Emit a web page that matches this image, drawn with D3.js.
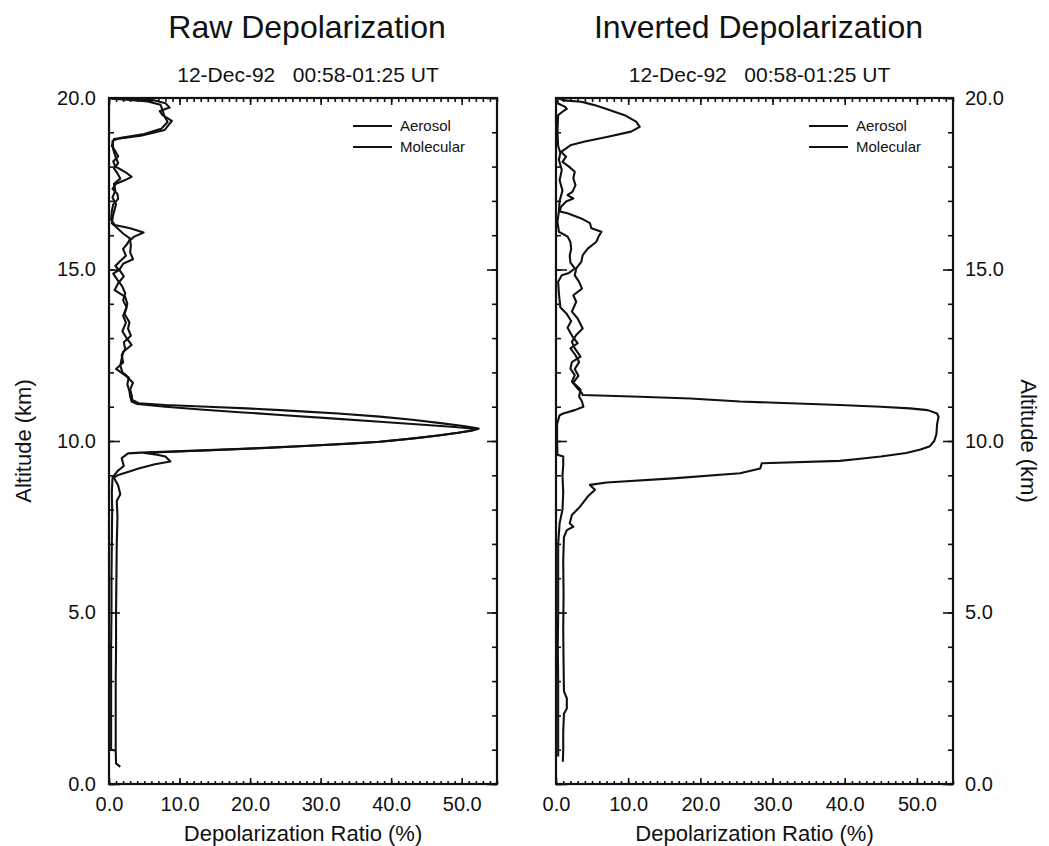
<!DOCTYPE html>
<html><head><meta charset="utf-8">
<script src="https://cdn.jsdelivr.net/npm/d3@7"></script>
<style>
body{margin:0;background:#fff;}
svg text{font-family:"Liberation Sans",Arial,Helvetica,sans-serif;fill:#111;}
</style></head><body>
<svg id="chart" width="1049" height="846"></svg>
<script>
// ---------- data ----------
const titles = ["Raw Depolarization", "Inverted Depolarization"];
const subtitle = "12-Dec-92   00:58-01:25 UT";
const xLabel = "Depolarization Ratio (%)";
const yLabel = "Altitude (km)";
const seriesNames = ["Aerosol", "Molecular"];
const xTicks = [0, 10, 20, 30, 40, 50];
const yTicks = [0, 5, 10, 15, 20];
const xDomain = [0, 55];
const yDomain = [0, 20];

// [altitude km, depolarization %]
const rawAerosol = [
[20.0,0.5],[19.97,3],[19.93,6.5],[19.85,8.0],[19.72,8.6],[19.62,7.2],[19.5,7.6],[19.33,8.9],[19.2,8.4],[19.07,7.9],[18.9,4.5],[18.8,0.7],
[18.6,0.4],[18.45,0.9],[18.3,1.3],[18.15,0.6],[18.0,0.9],[17.9,1.8],[17.8,2.6],[17.7,3.2],[17.6,2.2],[17.5,1.0],[17.35,0.5],[17.2,1.2],[17.06,1.3],[16.9,0.6],[16.7,0.4],[16.45,0.3],
[16.3,0.8],[16.2,3.0],[16.08,4.9],[15.95,3.5],[15.85,3.0],[15.7,3.1],[15.5,3.0],[15.3,3.4],[15.17,2.0],[15.0,1.5],[14.88,0.6],[14.7,1.2],[14.5,1.9],[14.3,2.3],[14.1,2.0],[13.9,2.5],[13.7,2.2],[13.46,2.9],[13.28,2.7],[13.07,3.1],[12.88,2.1],[12.68,2.3],[12.5,1.8],[12.29,2.0],[12.1,1.0],[11.9,2.4],[11.7,3.4],[11.5,3.0],[11.35,3.2],[11.2,3.3],
[11.1,4.2],[11.05,8],[11.0,14],[10.95,19.5],[10.9,24.3],[10.85,28.5],[10.8,32.5],[10.71,38.4],[10.62,43],[10.52,47],[10.43,50.5],[10.36,52.4],
[10.31,51.6],[10.25,49.8],[10.17,47],[10.09,43.8],[10.02,40.6],[9.98,38.4],[9.93,34.5],[9.87,29],[9.8,22],[9.74,15],[9.69,8.5],[9.66,4.5],[9.64,2.7],
[9.5,1.8],[9.27,2.1],[9.12,1.2],[8.93,0.5],[8.5,0.4],[8.0,0.45],[7.0,0.4],[6.0,0.35],[5.0,0.35],[4.0,0.3],[3.0,0.3],[2.0,0.3],[1.0,0.3],[0.97,1.0]
];
const rawMolecular = [
[19.98,0.4],[19.95,2.5],[19.9,5.5],[19.8,7.3],[19.65,7.6],[19.5,7.8],[19.3,8.3],[19.1,7.4],[18.95,5.0],[18.83,1.5],[18.75,0.5],
[18.5,0.6],[18.3,0.9],[18.1,1.3],[17.95,0.7],[17.8,1.2],[17.65,1.6],[17.5,0.7],[17.3,0.9],[17.1,0.5],[16.9,1.0],[16.6,0.6],[16.35,0.4],
[16.2,1.2],[16.05,2.0],[15.9,3.0],[15.75,2.6],[15.6,2.0],[15.4,2.4],[15.25,1.6],[15.1,0.9],[14.95,1.6],[14.8,2.1],[14.6,1.3],[14.4,0.8],[14.2,2.3],[14.0,2.6],[13.85,2.4],[13.65,2.0],[13.45,2.4],[13.2,1.9],[13.0,2.5],[12.8,3.2],[12.6,2.0],[12.4,1.8],[12.2,1.6],[12.0,1.9],[11.85,2.8],[11.65,2.6],[11.45,2.9],[11.3,3.0],[11.15,3.2],
[11.08,4],[11.0,8],[10.92,13],[10.84,18.5],[10.76,24.3],[10.66,31.5],[10.56,38.4],[10.48,44],[10.41,49],[10.35,52.1],
[10.3,51.2],[10.24,49.4],[10.16,46.6],[10.08,43.4],[10.01,40],[9.97,38.0],[9.92,34],[9.86,28.5],[9.79,21.5],[9.73,14.5],[9.68,8],[9.65,5],
[9.6,6.8],[9.55,8.0],[9.4,8.7],[9.32,6.5],[9.2,4.2],[9.12,3.0],[9.0,1.2],[8.93,0.7],[8.7,1.3],[8.45,1.6],[8.25,1.1],[7.8,1.2],[7.0,1.1],[6.0,1.05],[5.0,1.0],[4.0,1.0],[3.0,0.95],[2.0,0.95],[1.0,0.95],[0.6,1.0],[0.5,1.6]
];
const invAerosol = [
[20.0,0.3],[19.93,1.0],[19.89,3.5],[19.8,5.2],[19.7,6.7],[19.5,9.5],[19.31,11.1],[19.16,11.6],[19.02,10.4],[18.87,7.2],[18.73,4.0],[18.63,2.1],[18.43,0.7],
[18.29,1.4],[18.14,0.9],[18.0,1.8],[17.85,2.6],[17.66,2.4],[17.46,2.7],[17.27,2.3],[17.17,1.6],[17.07,2.4],[16.98,1.4],[16.83,0.7],[16.69,0.5],
[16.64,1.6],[16.49,3.5],[16.35,4.7],[16.2,4.9],[16.1,6.3],[15.96,5.9],[15.81,5.6],[15.61,4.4],[15.42,3.7],[15.22,3.5],[15.03,2.8],
[14.83,2.6],[14.64,3.2],[14.44,3.6],[14.25,2.4],[14.06,2.8],[13.77,2.2],[13.57,3.0],[13.28,3.7],[13.09,2.8],[12.89,2.2],[12.7,2.6],[12.46,3.4],[12.3,2.2],[12.11,2.0],[11.92,2.6],[11.73,2.2],[11.53,3.0],[11.39,3.6],
[11.34,3.7],[11.29,11.6],[11.24,18.6],[11.15,25.5],[11.05,39.3],[11.0,45],[10.95,49],[10.9,51.5],[10.8,52.8],[10.7,53.0],[10.5,52.8],[10.2,52.7],[10.0,52.4],[9.85,51.8],[9.75,50.5],[9.65,48.5],[9.55,45],[9.47,41.5],[9.42,39.3],
[9.35,28.5],[9.2,28.3],[9.06,25.5],[8.91,16.2],[8.79,7.0],[8.72,4.7],[8.58,5.4],[8.38,4.4],[8.08,3.3],[7.84,2.2],[7.6,1.9],[7.5,2.4],[7.4,1.5],[7.2,1.1],
[6.5,1.0],[5.5,1.05],[4.5,1.0],[3.5,1.05],[2.7,1.1],[2.5,1.5],[2.2,1.5],[2.05,1.1],[1.5,1.0],[1.0,1.0],[0.65,0.95]
];
const invMolecular = [
[19.95,0.2],[19.84,0.3],[19.75,1.2],[19.68,1.5],[19.6,0.9],[19.5,0.3],[19.0,0.2],[18.6,0.3],[18.4,0.6],[18.2,0.4],[17.9,0.8],[17.6,0.5],[17.3,0.9],[17.0,0.5],[16.69,0.4],[16.4,0.2],[16.1,0.4],
[15.96,1.6],[15.8,2.0],[15.6,2.1],[15.4,1.9],[15.2,2.0],[15.03,2.6],[14.9,1.8],[14.83,0.8],[14.64,0.3],[14.3,0.4],[13.9,0.6],[13.7,1.5],[13.5,2.1],[13.3,1.6],[13.04,2.3],[12.85,3.0],[12.7,2.0],[12.5,2.7],[12.3,3.2],[12.1,2.6],[11.9,3.1],[11.7,2.4],[11.5,3.4],[11.3,3.2],[11.15,3.6],[11.0,3.8],[10.9,2.6],[10.8,1.0],[10.75,0.5],
[10.5,0.15],[10.0,0.15],[9.6,0.2],[9.55,1.0],[9.3,1.0],[9.0,0.9],[8.5,1.0],[8.0,0.9],[7.6,0.5],[7.0,0.3],[6.0,0.3],[5.0,0.3],[4.0,0.25],[3.0,0.3],[2.0,0.3],[1.0,0.3],[0.8,0.3]
];

// ---------- layout ----------
const svg = d3.select("#chart");
const panels = [
  {title: titles[0], x0: 109, x1: 497, side: "left",  series: [rawAerosol, rawMolecular]},
  {title: titles[1], x0: 556, x1: 953, side: "right", series: [invAerosol, invMolecular]}
];
const yTop = 98, yBot = 784;
const fmt = d3.format(".1f");
const ink = "#111";

panels.forEach(p => {
  const x = d3.scaleLinear().domain(xDomain).range([p.x0, p.x1]);
  const y = d3.scaleLinear().domain(yDomain).range([yBot, yTop]);
  const g = svg.append("g");
  const cx = (p.x0 + p.x1) / 2;

  // titles
  g.append("text").attr("x", cx + 4).attr("y", 38).attr("text-anchor", "middle")
    .style("font-size", "32px").text(p.title);
  g.append("text").attr("x", cx + 5).attr("y", 82).attr("text-anchor", "middle")
    .style("font-size", "21px").style("white-space", "pre").text(subtitle);

  const minorX = d3.range(xDomain[0], xDomain[1] + 1, 1);
  const minorY = d3.range(yDomain[0], yDomain[1] + 1, 1);

  function styleAxis(sel) {
    sel.select(".domain").remove();
    sel.selectAll(".tick line").attr("stroke", ink).attr("stroke-width", 1.6);
    sel.selectAll(".tick text").style("font-size", "20px").attr("fill", ink);
  }
  // bottom
  g.append("g").attr("transform", `translate(0,${yBot})`)
    .call(d3.axisBottom(x).tickValues(minorX).tickSize(-3).tickFormat("")).call(styleAxis);
  g.append("g").attr("transform", `translate(0,${yBot})`)
    .call(d3.axisBottom(x).tickValues(xTicks).tickSize(-6).tickPadding(13).tickFormat(fmt)).call(styleAxis);
  // top
  g.append("g").attr("transform", `translate(0,${yTop})`)
    .call(d3.axisTop(x).tickValues(minorX).tickSize(-4).tickFormat("")).call(styleAxis);
  g.append("g").attr("transform", `translate(0,${yTop})`)
    .call(d3.axisTop(x).tickValues(xTicks).tickSize(-7).tickFormat("")).call(styleAxis);
  // left
  g.append("g").attr("transform", `translate(${p.x0},0)`)
    .call(d3.axisLeft(y).tickValues(minorY).tickSize(-5).tickFormat("")).call(styleAxis);
  g.append("g").attr("transform", `translate(${p.x0},0)`)
    .call(d3.axisLeft(y).tickValues(yTicks).tickSize(-11).tickPadding(13)
      .tickFormat(p.side === "left" ? fmt : "")).call(styleAxis);
  // right
  g.append("g").attr("transform", `translate(${p.x1},0)`)
    .call(d3.axisRight(y).tickValues(minorY).tickSize(-5).tickFormat("")).call(styleAxis);
  g.append("g").attr("transform", `translate(${p.x1},0)`)
    .call(d3.axisRight(y).tickValues(yTicks).tickSize(-10).tickPadding(12)
      .tickFormat(p.side === "right" ? fmt : "")).call(styleAxis);

  // frame
  g.append("rect").attr("x", p.x0).attr("y", yTop).attr("width", p.x1 - p.x0).attr("height", yBot - yTop)
    .attr("fill", "none").attr("stroke", ink).attr("stroke-width", 2.2);

  // x label
  g.append("text").attr("x", cx).attr("y", 841).attr("text-anchor", "middle")
    .style("font-size", "22px").text(xLabel);

  // y label
  if (p.side === "left") {
    g.append("text").attr("transform", `translate(31,441) rotate(-90)`).attr("text-anchor", "middle")
      .style("font-size", "22px").text(yLabel);
  } else {
    g.append("text").attr("transform", `translate(1021,441) rotate(90)`).attr("text-anchor", "middle")
      .style("font-size", "22px").text(yLabel);
  }

  // curves
  const line = d3.line().x(d => x(d[1])).y(d => y(d[0])).curve(d3.curveLinear);
  p.series.forEach(s => {
    g.append("path").datum(s).attr("d", line).attr("fill", "none")
      .attr("stroke", ink).attr("stroke-width", 2.1).attr("stroke-linejoin", "round");
  });

  // legend
  const lx = p.x1 - 144;
  seriesNames.forEach((name, i) => {
    const ly = 126 + i * 21;
    g.append("line").attr("x1", lx).attr("x2", lx + 39).attr("y1", ly).attr("y2", ly)
      .attr("stroke", ink).attr("stroke-width", 2.2);
    g.append("text").attr("x", lx + 47).attr("y", ly + 5).style("font-size", "15px").text(name);
  });
});
</script>
</body></html>
